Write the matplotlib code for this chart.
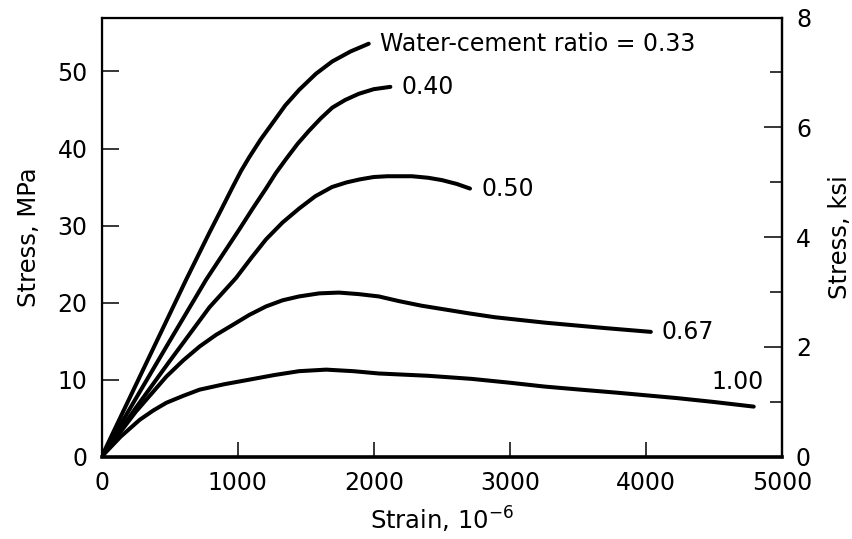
import matplotlib
matplotlib.use('Agg')
import matplotlib.pyplot as plt

# stress-strain curves (strain in 1e-6, stress in MPa)
strain_033 = [0, 200, 400, 622, 793, 880, 963, 1025, 1086, 1170, 1256, 1350, 1451,
              1575, 1695, 1830, 1910, 1963]
stress_033 = [0, 7.4, 14.8, 23.0, 29.1, 32.1, 35.0, 37.1, 38.9, 41.2, 43.3, 45.6, 47.6,
              49.7, 51.3, 52.6, 53.2, 53.6]

strain_040 = [0, 250, 500, 769, 1012, 1110, 1208, 1280, 1354, 1440, 1524, 1610, 1695,
              1790, 1890, 2000, 2122]
stress_040 = [0, 7.5, 15.0, 23.0, 29.5, 32.2, 34.8, 36.8, 38.6, 40.6, 42.3, 43.9, 45.3,
              46.3, 47.1, 47.7, 48.0]

strain_050 = [0, 250, 500, 793, 988, 1100, 1208, 1330, 1451, 1570, 1693, 1800, 1900,
              2000, 2100, 2280, 2400, 2500, 2610, 2707]
stress_050 = [0, 6.3, 12.4, 19.4, 23.2, 25.8, 28.2, 30.4, 32.2, 33.8, 35.0, 35.6, 36.0,
              36.3, 36.4, 36.4, 36.2, 35.9, 35.4, 34.8]

strain_067 = [0, 250, 476, 600, 720, 840, 963, 1085, 1208, 1330, 1451, 1600, 1744, 1890,
              2037, 2183, 2350, 2525, 2700, 2890, 3256, 3695, 4036]
stress_067 = [0, 5.8, 10.4, 12.5, 14.3, 15.8, 17.1, 18.4, 19.5, 20.3, 20.8, 21.2, 21.3, 21.1,
              20.8, 20.2, 19.6, 19.1, 18.6, 18.1, 17.4, 16.7, 16.2]

strain_100 = [0, 140, 281, 380, 476, 600, 720, 900, 1086, 1270, 1451, 1650, 1850, 2037,
              2400, 2719, 3000, 3256, 3520, 3792, 4231, 4500, 4792]
stress_100 = [0, 2.6, 4.8, 6.0, 7.0, 7.9, 8.7, 9.4, 10.0, 10.6, 11.1, 11.3, 11.1, 10.8,
              10.5, 10.1, 9.6, 9.1, 8.7, 8.3, 7.6, 7.1, 6.5]

curve_labels = ['Water-cement ratio = 0.33', '0.40', '0.50', '0.67', '1.00']

x_ticks = [0, 1000, 2000, 3000, 4000, 5000]
mpa_ticks = [0, 10, 20, 30, 40, 50]
ksi_ticks = [0, 2, 4, 6, 8]
ksi_minor = [1, 3, 5, 7]

plt.rcParams['font.family'] = ['DejaVu Sans']

fig = plt.figure(figsize=(8.53, 5.39), dpi=100)
ax = fig.add_axes([0.1191, 0.1527, 0.7977, 0.8148])

curves = [(strain_033, stress_033), (strain_040, stress_040), (strain_050, stress_050),
          (strain_067, stress_067), (strain_100, stress_100)]

for i in range(len(curves)):
    eps, sig = curves[i]
    ax.plot(eps, sig, 'k-', lw=2.9, solid_capstyle='round', solid_joinstyle='round')
    # label sits just after the end of each curve
    if i == len(curves) - 1:
        ax.annotate(curve_labels[i], (eps[-1], sig[-1]), xytext=(7, 18),
                    textcoords='offset points', ha='right', va='center', fontsize=17)
    else:
        ax.annotate(curve_labels[i], (eps[-1], sig[-1]), xytext=(8, 0),
                    textcoords='offset points', ha='left', va='center', fontsize=17)

ax.set_xlim(0, 5000)
ax.set_ylim(0, 57)
ax.set_xticks(x_ticks)
ax.set_yticks(mpa_ticks)
ax.tick_params(axis='x', direction='in', length=11, width=1.1, labelsize=17, pad=10)
ax.tick_params(axis='y', direction='in', length=12, width=1.1, labelsize=17, pad=10)
ax.set_xlabel('Strain, 10$^{-6}$', fontsize=17.5, labelpad=7)
ax.set_ylabel('Stress, MPa', fontsize=17.5, labelpad=12)

for s in ['left', 'top', 'right']:
    ax.spines[s].set_linewidth(1.6)
ax.spines['bottom'].set_linewidth(2.6)

# second scale in ksi
ax2 = ax.twinx()
ax2.set_ylim(0, 8)
ax2.set_yticks(ksi_ticks)
ax2.set_yticks(ksi_minor, minor=True)
ax2.tick_params(which='major', direction='in', length=13, width=1.1, labelsize=17, pad=10)
ax2.tick_params(which='minor', direction='in', length=9, width=1.1)
ax2.set_ylabel('Stress, ksi', fontsize=17.5, labelpad=12)
ax2.spines['right'].set_linewidth(1.6)

fig.savefig('out.png', dpi=100)
